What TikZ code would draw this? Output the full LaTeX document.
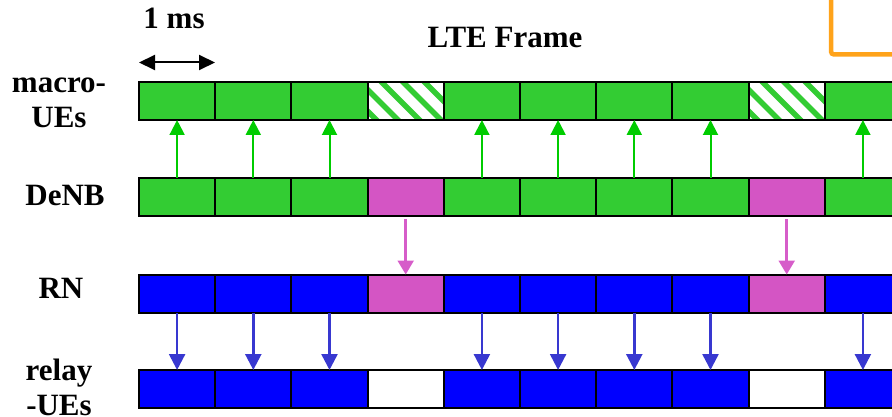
\documentclass[tikz,border=0pt]{standalone}
\usepackage{fontspec}
\setmainfont{Liberation Serif}
\usetikzlibrary{arrows.meta,calc}

\definecolor{cellgreen}{HTML}{33CC33}
\definecolor{cellblue}{HTML}{0000FF}
\definecolor{cellpink}{HTML}{D455C4}
\definecolor{arrgreen}{HTML}{00CC00}
\definecolor{arrblue}{HTML}{3838D0}
\definecolor{arrpink}{HTML}{D65DC9}
\definecolor{frameorange}{HTML}{FFA31A}

\tikzset{
  sub/.style={draw=black, line width=2, minimum width=76.2, minimum height=38,
    inner sep=0, outer sep=0, anchor=north west},
  gsub/.style={sub, fill=cellgreen},
  bsub/.style={sub, fill=cellblue},
  psub/.style={sub, fill=cellpink},
  wsub/.style={sub, fill=white},
  hsub/.style={sub, fill=white, path picture={
      \foreach \k in {-3,...,5}
        \draw[cellgreen, line width=5.5]
          ($(path picture bounding box.north west)+(\k*21.5+14,0)+(-25,-25)$) -- ++(90,90);
    }},
  lab/.style={font=\fontsize{31}{35}\selectfont\bfseries, inner sep=0, align=center},
  garrow/.style={arrgreen, line width=2, -{Triangle[length=15,width=15]}},
  parrow/.style={arrpink, line width=2.5, -{Triangle[length=14,width=16]}},
  barrow/.style={arrblue, line width=2.5, -{Triangle[length=16,width=16]}},
}

\begin{document}
\begin{tikzpicture}[x=1pt, y=-1pt]
  \useasboundingbox (0,0) rectangle (892,417);
  \clip (0,0) rectangle (892,417);

  % frame marker in the upper right corner
  \draw[frameorange, line width=4.5, rounded corners=3]
    (831,-5) -- (831,54.5) -- (900,54.5);

  % the four subframe rows; subframes 3 and 8 carry the backhaul
  \foreach \i in {0,...,9} {
    \pgfmathsetmacro{\xx}{139+76.2*\i}
    \ifnum\i=3 \def\isgap{1}\else\ifnum\i=8 \def\isgap{1}\else\def\isgap{0}\fi\fi
    \if1\isgap
      \node[hsub] (m\i) at (\xx,82) {};
      \node[psub] (d\i) at (\xx,178) {};
      \node[psub] (r\i) at (\xx,274.5) {};
      \node[wsub] (u\i) at (\xx,370) {};
    \else
      \node[gsub] (m\i) at (\xx,82) {};
      \node[gsub] (d\i) at (\xx,178) {};
      \node[bsub] (r\i) at (\xx,274.5) {};
      \node[bsub] (u\i) at (\xx,370) {};
    \fi
  }

  % transmissions between the rows
  \foreach \i in {0,1,2,4,5,6,7,9} {
    \draw[garrow] (d\i.north) -- (m\i.south);
    \draw[barrow] (r\i.south) -- (u\i.north);
  }
  \foreach \i in {3,8} {
    \draw[parrow, shorten <=3] (d\i.south) -- (r\i.north);
  }

  % subframe length
  \coordinate (msL) at (139,62.5);
  \coordinate (msR) at (215,62.5);
  \draw[line width=2, {Triangle[length=16,width=15]}-{Triangle[length=16,width=15]}] (msL) -- (msR);

  % titles and row labels
  \node[lab, anchor=base] (ms) at (174,29) {1 ms};
  \node[lab, anchor=base] (title) at (505,48) {LTE Frame};
  \node[lab, anchor=base] (labMacro) at (59,128) {macro-\\UEs};
  \node[lab, anchor=base] (labDenb) at (65,205) {DeNB};
  \node[lab, anchor=base] (labRn) at (61,298) {RN};
  \node[lab, anchor=base] (labRelay) at (59,415) {relay\\-UEs};
\end{tikzpicture}
\end{document}
